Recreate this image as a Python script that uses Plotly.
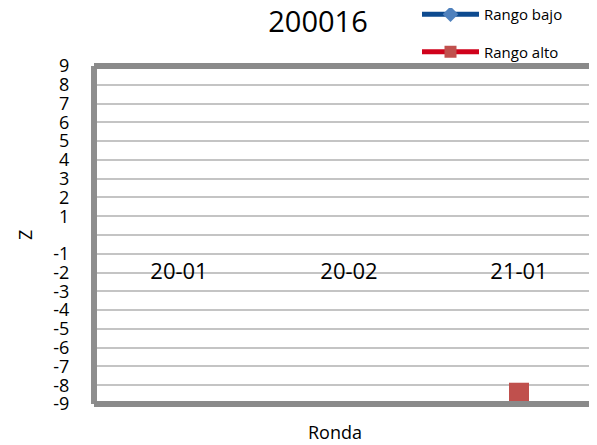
import plotly.graph_objects as go

categories = ["20-01", "20-02", "21-01"]
rango_bajo = [None, None, None]
rango_alto = [None, None, -8.4]
y_ticks = [-9, -8, -7, -6, -5, -4, -3, -2, -1, 0, 1, 2, 3, 4, 5, 6, 7, 8, 9]
y_ticktext = [str(v) if v != 0 else "" for v in y_ticks]

FONT = "Open Sans, Lato, sans-serif"
# the page body has an 8px default margin; compensate so the figure fills the window
OFF = 8
W, H = 597 - OFF, 445 - OFF
ML, MR, MT, MB = 94 - OFF, 0, 66 - OFF, 41
plot_w = W - ML - MR
plot_h = H - MT - MB
cat_px = 170.0

fig = go.Figure()
fig.add_trace(go.Scatter(
    x=categories, y=rango_bajo, name="Rango bajo", mode="lines+markers",
    line=dict(color="#0D4A8F", width=5),
    marker=dict(symbol="diamond", color="#4F81BD", size=10),
    legendgroup="a", connectgaps=False,
))
fig.add_trace(go.Scatter(
    x=categories, y=rango_alto, name="Rango alto", mode="lines+markers",
    line=dict(color="#D0021B", width=5),
    marker=dict(symbol="square", color="#C0504D", size=20,
                line=dict(width=0)),
    legendgroup="b",
))

x_max = -0.5 + plot_w / cat_px

fig.update_layout(
    width=W, height=H,
    margin=dict(l=ML, r=MR, t=MT, b=MB, autoexpand=False),
    paper_bgcolor="white", plot_bgcolor="white",
    font=dict(family=FONT, color="black"),
    title=dict(text="200016", font=dict(size=29, family=FONT, color="black"),
               x=(318 - 94) / plot_w, xref="paper", xanchor="center",
               y=1 - (22 - OFF) / H, yref="container", yanchor="middle"),
    showlegend=True,
    legend=dict(
        x=(417 - 94) / plot_w, y=1 + (66 + 10 - OFF) / plot_h,
        xref="paper", yref="paper",
        xanchor="left", yanchor="top",
        bgcolor="rgba(0,0,0,0)", font=dict(size=15, family=FONT, color="black"),
        itemsizing="constant", itemwidth=57, tracegroupgap=15,
    ),
    xaxis=dict(
        type="category", range=[-0.5, x_max],
        anchor="free", position=0.5, side="bottom",
        showline=False, showgrid=False, zeroline=False, ticks="",
        tickfont=dict(size=22, family=FONT, color="black"),
        ticklabelstandoff=21,
    ),
    yaxis=dict(
        range=[-9, 9], tickvals=y_ticks, ticktext=y_ticktext,
        showgrid=True, gridcolor="#C4C4C4", gridwidth=2,
        zeroline=False, showline=False,
        ticks="outside", ticklen=20, tickcolor="rgba(0,0,0,0)",
        tickfont=dict(size=18, family=FONT, color="black"),
    ),
    shapes=[
        dict(type="line", xref="paper", yref="paper", x0=0, x1=0, y0=0, y1=1,
             line=dict(color="#8E8E8E", width=6), layer="above"),
        dict(type="line", xref="paper", yref="paper", x0=0, x1=1, y0=1, y1=1,
             line=dict(color="#8A8A8A", width=6), layer="above"),
        dict(type="line", xref="paper", yref="paper", x0=0, x1=1, y0=0, y1=0,
             line=dict(color="#8A8A8A", width=6), layer="above"),
    ],
    annotations=[
        dict(text="Ronda", xref="paper", yref="paper", x=(335 - 94) / plot_w, y=0,
             xanchor="center", yanchor="top", yshift=-14, showarrow=False,
             font=dict(size=18, family=FONT, color="black")),
        dict(text="Z", xref="paper", yref="paper", x=0, y=0.5, xshift=-69,
             xanchor="center", yanchor="middle", textangle=-90, showarrow=False,
             font=dict(size=18, family=FONT, color="black")),
    ],
)

fig.write_html("out.html")
